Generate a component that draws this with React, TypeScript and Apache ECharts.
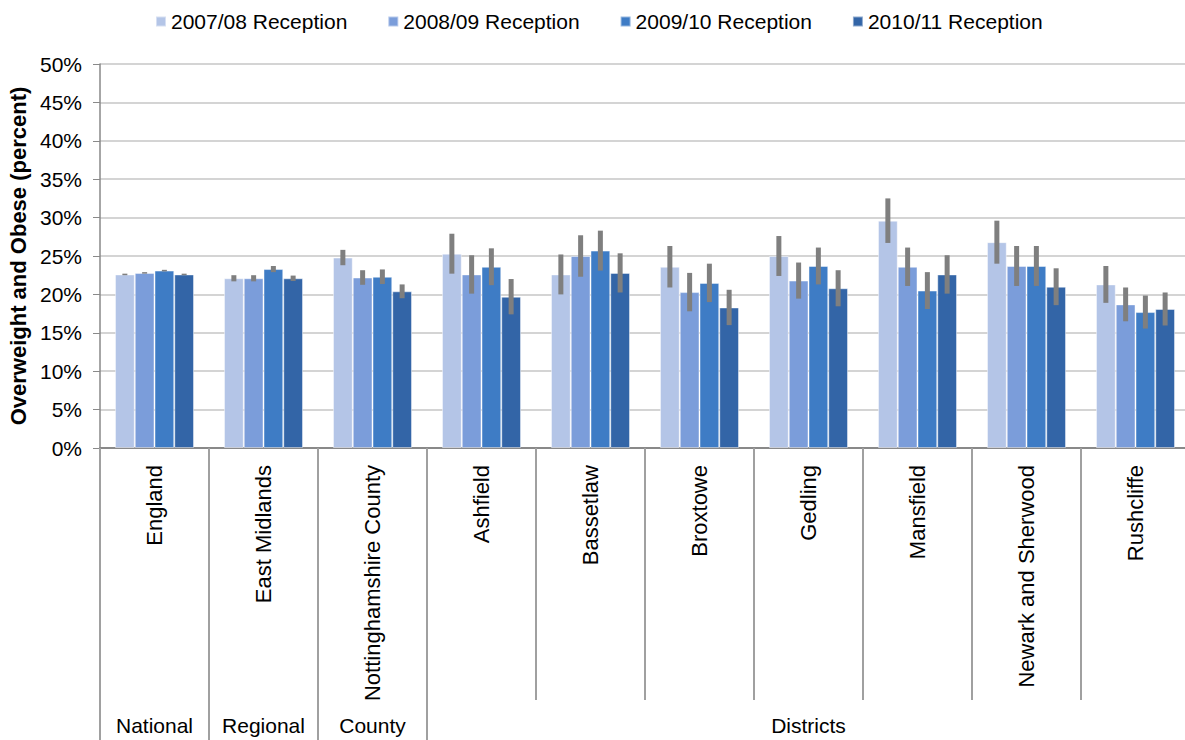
import React, { useEffect, useRef } from "react";
import * as echarts from "echarts";

const categories = [
  "England",
  "East Midlands",
  "Nottinghamshire County",
  "Ashfield",
  "Bassetlaw",
  "Broxtowe",
  "Gedling",
  "Mansfield",
  "Newark and Sherwood",
  "Rushcliffe",
];
const seriesNames = ["2007/08 Reception", "2008/09 Reception", "2009/10 Reception", "2010/11 Reception"];
const seriesColors = ["#B4C5E7", "#7B9DDA", "#3E7CC5", "#3365A7"];

const values0708 = [22.6, 22.1, 24.8, 25.3, 22.6, 23.6, 25.0, 29.6, 26.8, 21.3];
const values0809 = [22.8, 22.1, 22.2, 22.6, 25.0, 20.3, 21.8, 23.6, 23.7, 18.7];
const values0910 = [23.1, 23.3, 22.3, 23.6, 25.7, 21.5, 23.7, 20.5, 23.7, 17.7];
const values1011 = [22.6, 22.1, 20.4, 19.7, 22.8, 18.3, 20.8, 22.6, 21.0, 18.1];

const err0708 = [0.1, 0.4, 1.0, 2.6, 2.6, 2.7, 2.6, 2.9, 2.8, 2.4];
const err0809 = [0.1, 0.4, 0.95, 2.5, 2.7, 2.5, 2.35, 2.5, 2.6, 2.2];
const err0910 = [0.1, 0.4, 0.95, 2.4, 2.6, 2.5, 2.4, 2.4, 2.6, 2.15];
const err1011 = [0.1, 0.35, 0.9, 2.3, 2.55, 2.3, 2.35, 2.5, 2.4, 2.15];

const yTicks = [0, 5, 10, 15, 20, 25, 30, 35, 40, 45, 50];

const groupNames = ["National", "Regional", "County", "Districts"];
const groupLabelPositions = [0.5, 1.5, 2.5, 6.5];
const groupBoundaries = [0, 1, 2, 3];

const allValues = [values0708, values0809, values0910, values1011];
const allErrors = [err0708, err0809, err0910, err1011];

const FONT = "'Liberation Sans', Arial, sans-serif";
const CAT_GAP = 0.275;

export default function App() {
  const ref = useRef<HTMLDivElement>(null);

  useEffect(() => {
    document.body.style.margin = "0";
    if (!ref.current) return;
    const chart = echarts.init(ref.current, undefined, { renderer: "svg" });

    const barSeries = seriesNames.map((name, k) => ({
      name,
      type: "bar",
      data: allValues[k],
      barGap: "0%",
      barCategoryGap: "27.5%",
      itemStyle: {
        color: seriesColors[k],
        borderColor: "rgba(255,255,255,0.45)",
        borderWidth: 1,
      },
      z: 2,
    }));

    const errSeries = seriesNames.map((name, k) => ({
      name: name + " error",
      type: "custom",
      xAxisIndex: 0,
      yAxisIndex: 0,
      z: 5,
      encode: { x: 0, y: [1, 2] },
      data: allValues[k].map((v, i) => [i, v - allErrors[k][i], v + allErrors[k][i]]),
      renderItem: (params: any, api: any) => {
        const ci = api.value(0);
        const lo = api.coord([ci, api.value(1)]);
        const hi = api.coord([ci, api.value(2)]);
        const band = api.size([1, 0])[0];
        const groupW = band * (1 - CAT_GAP);
        const barW = groupW / 4;
        const x = lo[0] - groupW / 2 + barW * (k + 0.5);
        return {
          type: "line",
          shape: { x1: x, y1: lo[1], x2: x, y2: hi[1] },
          style: { stroke: "#7f7f7f", lineWidth: 5 },
        };
      },
    }));

    chart.setOption({
      animation: false,
      textStyle: { fontFamily: FONT },
      legend: {
        data: seriesNames,
        top: 6,
        left: 150,
        itemWidth: 10,
        itemHeight: 10,
        itemGap: 40,
        icon: "rect",
        textStyle: { fontFamily: FONT, fontSize: 21, color: "#000" },
      },
      grid: {
        left: 100,
        right: -5,
        top: 64,
        bottom: 292,
        containLabel: false,
        outerBoundsMode: "none",
      },
      xAxis: [
        {
          type: "category",
          data: categories,
          position: "bottom",
          axisLine: { lineStyle: { color: "#898989", width: 2 } },
          axisTick: { show: true, length: 252, lineStyle: { color: "#a0a0a0", width: 2 } },
          axisLabel: {
            rotate: 90,
            margin: 17,
            fontSize: 22,
            color: "#000",
            fontFamily: FONT,
            interval: 0,
          },
          splitLine: { show: false },
        },
        {
          type: "value",
          min: 0,
          max: 10,
          position: "bottom",
          axisLine: { show: false },
          splitLine: { show: false },
          axisTick: {
            show: true,
            length: 300,
            customValues: groupBoundaries,
            lineStyle: { color: "#a0a0a0", width: 2 },
          },
          axisLabel: {
            show: true,
            customValues: groupLabelPositions,
            margin: 267,
            fontSize: 21,
            color: "#000",
            fontFamily: FONT,
            formatter: (v: number) => {
              const idx = groupLabelPositions.indexOf(v);
              return idx >= 0 ? groupNames[idx] : "";
            },
          },
        },
      ],
      yAxis: {
        type: "value",
        min: 0,
        max: 50,
        interval: 5,
        name: "Overweight and Obese (percent)",
        nameLocation: "middle",
        nameGap: 69,
        nameRotate: 90,
        nameTextStyle: { fontFamily: FONT, fontSize: 22, fontWeight: "bold", color: "#000" },
        axisLine: { show: true, lineStyle: { color: "#898989", width: 1.5 } },
        axisTick: { show: true, length: 7, lineStyle: { color: "#898989" } },
        axisLabel: {
          fontSize: 21,
          color: "#000",
          margin: 18,
          fontFamily: FONT,
          customValues: yTicks,
          formatter: (v: number) => v + "%",
        },
        splitLine: { show: true, lineStyle: { color: "#c6c6c6", width: 1.5 } },
      },
      series: [...barSeries, ...errSeries],
    });

    return () => chart.dispose();
  }, []);

  return <div ref={ref} style={{ width: 1185, height: 740 }} />;
}
